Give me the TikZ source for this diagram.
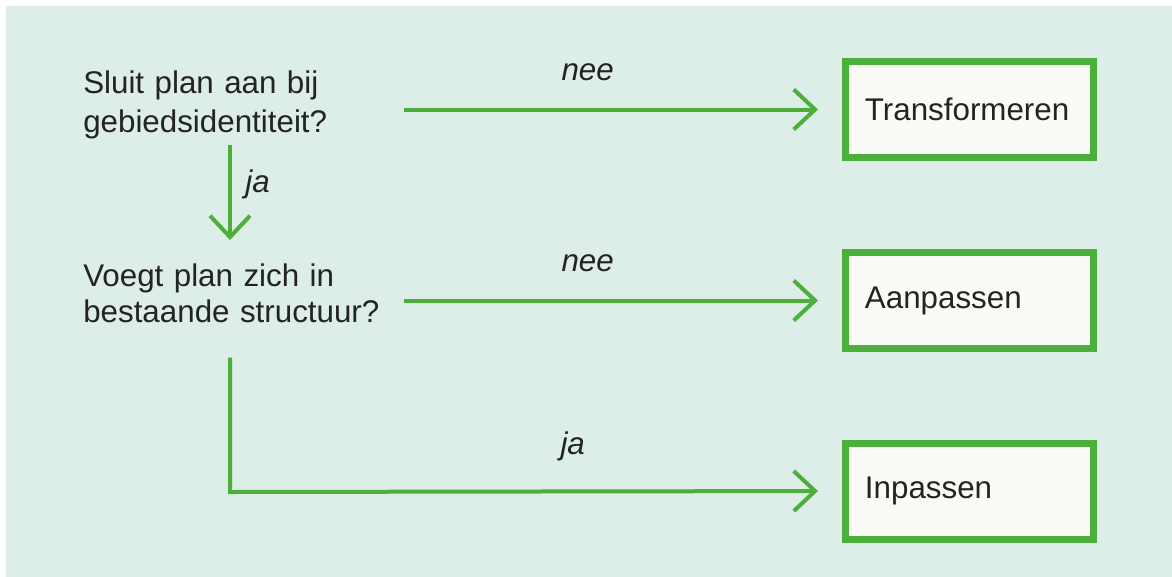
\documentclass[tikz,border=0pt]{standalone}
\usepackage{fontspec}
\setmainfont{Liberation Sans}
\usetikzlibrary{arrows.meta}
\definecolor{bggreen}{RGB}{221,237,231}
\definecolor{linegreen}{RGB}{76,175,60}
\definecolor{boxfill}{RGB}{250,250,246}
\definecolor{txt}{RGB}{35,35,35}

\begin{document}
\begin{tikzpicture}[x=0.75pt,y=0.75pt,yscale=-1,xscale=1,
  question/.style={anchor=north west,inner sep=0pt,text width=240pt,align=left,text=txt},
  answer/.style={draw=linegreen,line width=5.25pt,fill=boxfill,anchor=west,minimum width=186pt,minimum height=72pt,text width=156.8pt,inner xsep=14.6pt,align=left,text=txt,font=\fontsize{23.5}{29}\selectfont},
  flow/.style={draw=linegreen,line width=3pt,line join=miter,-{Straight Barb[length=16pt,width=30pt]}},
  lab/.style={anchor=south,inner xsep=0pt,inner ysep=20pt,text depth=0pt,text=txt,font=\fontsize{23.5}{29}\selectfont\itshape}]
\useasboundingbox (0,0) rectangle (1172,576);
\fill[white] (-2,-2) rectangle (1176,580);
\fill[bggreen] (6,6) rectangle (1176,580);

\node[question,font=\fontsize{23.5}{29}\selectfont] (q1) at (83,71) {Sluit plan aan bij\\gebiedsidentiteit?};
\node[question,font=\fontsize{23.5}{27}\selectfont] (q2) at (83,264) {Voegt plan zich in\\bestaande structuur?};
\node[answer] (t) at (842,109.5) {Transformeren};
\node[answer] (a) at (842,300.5) {Aanpassen};
\node[answer] (i) at (842,491) {Inpassen};
\coordinate (turn) at (230,492);

\draw[flow,shorten >=18pt] (q1.east |- t.west) -- node[lab,pos=0.42] (nee1) {nee} (t.west);
\draw[flow,shorten >=18pt] (q2.east |- a.west) -- node[lab,pos=0.42] (nee2) {nee} (a.west);
\draw[flow,shorten <=4pt,shorten >=18pt] (q1.south -| turn) -- node[lab,anchor=base west,pos=0.43,xshift=10pt,inner ysep=0pt] (ja1) {ja} (q2.north -| turn);
\draw[flow,shorten <=25.5pt,shorten >=18pt] (q2.south -| turn) -- (turn) -- node[lab,pos=0.56,inner ysep=26pt] (ja2) {ja} (i.west);
\end{tikzpicture}
\end{document}
